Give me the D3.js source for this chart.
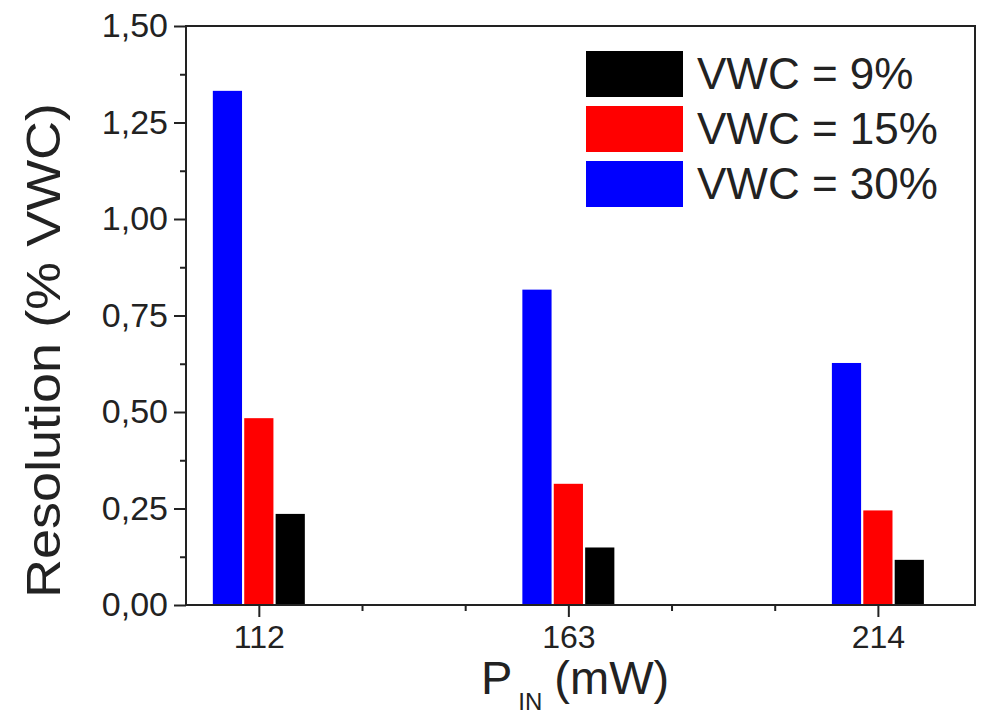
<!DOCTYPE html>
<html>
<head>
<meta charset="utf-8">
<script src="https://cdn.jsdelivr.net/npm/d3@7"></script>
<style>
  body { margin: 0; background: #fff; }
  text { font-family: "Liberation Sans", Arial, sans-serif; fill: #222; }
</style>
</head>
<body>
<div id="chart-area"></div>
<script>
// data
const powers = [112, 163, 214]
const series = ["VWC = 30%", "VWC = 15%", "VWC = 9%"]
const vwc30 = [1.332, 0.817, 0.627]
const vwc15 = [0.484, 0.314, 0.245]
const vwc9 = [0.236, 0.149, 0.117]
const yTicks = [0, 0.25, 0.5, 0.75, 1.0, 1.25, 1.5]
const legendOrder = ["VWC = 9%", "VWC = 15%", "VWC = 30%"]

const colors = { "VWC = 30%": "#0000ff", "VWC = 15%": "#ff0000", "VWC = 9%": "#000000" }
const values = { "VWC = 30%": vwc30, "VWC = 15%": vwc15, "VWC = 9%": vwc9 }

const W = 989, H = 716
const MARGIN = { LEFT: 186, RIGHT: 14, TOP: 26, BOTTOM: 111 }
const WIDTH = W - MARGIN.LEFT - MARGIN.RIGHT
const HEIGHT = H - MARGIN.TOP - MARGIN.BOTTOM

const svg = d3.select("#chart-area").append("svg")
  .attr("width", W)
  .attr("height", H)

const g = svg.append("g")
  .attr("transform", `translate(${MARGIN.LEFT}, ${MARGIN.TOP})`)

// scales
const x = d3.scaleLinear().domain([100, 230]).range([0, WIDTH])
const y = d3.scaleLinear().domain([0, 1.5]).range([HEIGHT, 0])
const sub = d3.scaleBand().domain(series).range([-46, 46]).paddingInner(0.07)

const locale = d3.formatLocale({ decimal: ",", thousands: ".", grouping: [3], currency: ["", ""] })
const fmt = locale.format(".2f")

// bars
series.forEach(s => {
  g.selectAll(null)
    .data(powers.map((p, i) => ({ p, v: values[s][i] })))
    .enter().append("rect")
    .attr("x", d => x(d.p) + sub(s))
    .attr("width", sub.bandwidth())
    .attr("y", d => y(d.v))
    .attr("height", d => HEIGHT - y(d.v))
    .attr("fill", colors[s])
})

// minor ticks
const yMinor = d3.axisLeft(y).tickValues(d3.range(0.125, 1.5, 0.25)).tickSize(6).tickFormat("")
const xMinor = d3.axisBottom(x).tickValues([129, 146, 180, 197]).tickSize(6).tickFormat("")

g.append("g").call(yMinor)
g.append("g").attr("transform", `translate(0, ${HEIGHT})`).call(xMinor)

// major axes
const yAxis = g.append("g").call(d3.axisLeft(y).tickValues(yTicks).tickSize(12).tickPadding(6).tickFormat(fmt))
const xAxis = g.append("g")
  .attr("transform", `translate(0, ${HEIGHT})`)
  .call(d3.axisBottom(x).tickValues(powers).tickSize(12).tickPadding(8).tickFormat(d3.format("d")))

g.selectAll(".domain").remove()
g.selectAll(".tick line").attr("stroke", "#222").attr("stroke-width", 2)
yAxis.selectAll("text").attr("font-size", "34px").attr("fill", "#222")
xAxis.selectAll("text").attr("font-size", "32px").attr("fill", "#222")

// frame
g.append("rect")
  .attr("width", WIDTH)
  .attr("height", HEIGHT)
  .attr("fill", "none")
  .attr("stroke", "#222")
  .attr("stroke-width", 2)

// legend
const legend = g.append("g").attr("transform", `translate(${586 - MARGIN.LEFT}, ${51 - MARGIN.TOP})`)
legendOrder.forEach((s, i) => {
  legend.append("rect")
    .attr("x", 0)
    .attr("y", i * 55)
    .attr("width", 97)
    .attr("height", 46)
    .attr("fill", colors[s])
  legend.append("text")
    .attr("x", 111)
    .attr("y", i * 55 + 38)
    .attr("font-size", "44px")
    .text(s)
})

// Y label (a bit narrow, like the source figure)
svg.append("text")
  .attr("transform", `translate(60, 598) scale(0.88, 1) rotate(-90)`)
  .attr("text-anchor", "start")
  .attr("font-size", "54px")
  .text("Resolution (% VWC)")

// X label
const xLabel = svg.append("text")
  .attr("x", 481)
  .attr("y", 694)
  .attr("font-size", "47px")
xLabel.append("tspan").text("P")
xLabel.append("tspan").attr("font-size", "24px").attr("dy", 16).attr("dx", 6).text("IN")
xLabel.append("tspan").attr("dy", -16).attr("dx", 12).text("(mW)")
</script>
</body>
</html>
